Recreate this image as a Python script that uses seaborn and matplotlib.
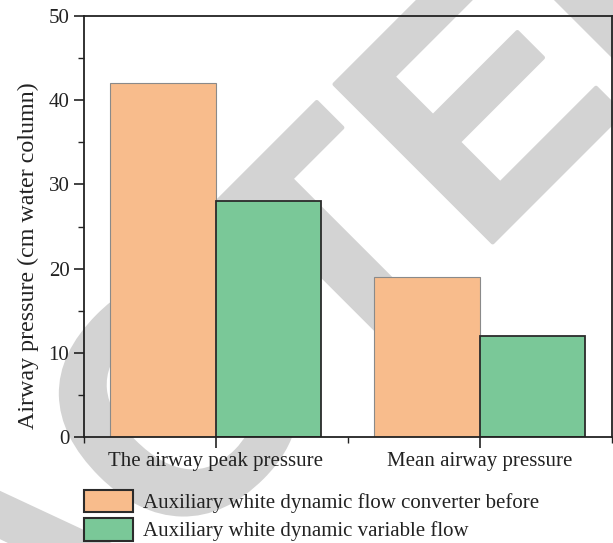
import numpy as np
import pandas as pd
import seaborn as sns
import matplotlib.pyplot as plt
import matplotlib.patheffects as pe
from matplotlib.patches import Patch
from matplotlib.ticker import MultipleLocator, FixedLocator

# --- data ---
categories = ["The airway peak pressure", "Mean airway pressure"]
groups = ["Auxiliary white dynamic flow converter before",
          "Auxiliary white dynamic variable flow"]
before_vals = [42, 19]
variable_vals = [28, 12]
colors = ["#F8BC8C", "#7AC898"]

df = pd.DataFrame({
    "category": categories * 2,
    "group": [groups[0]] * 2 + [groups[1]] * 2,
    "value": before_vals + variable_vals,
})

sns.set_style("white")
plt.rcParams['font.family'] = ['Liberation Serif', 'DejaVu Serif']
plt.rcParams['font.size'] = 15

fig = plt.figure(figsize=(6.13, 5.43), dpi=100)
# watermark behind the axes
fig.text(0.1436, -0.1915, "RETRACTED", ha='center', va='baseline', rotation=45,
         rotation_mode='anchor', fontsize=234, color='#d3d3d3', fontweight='bold',
         family='Liberation Sans', zorder=-1,
         path_effects=[pe.withStroke(linewidth=3, foreground='#d3d3d3')])

ax = fig.add_axes([0.137, 0.195, 0.861, 0.7755])
ax.patch.set_alpha(0)

sns.barplot(data=df, x="category", y="value", hue="group", palette=colors,
            width=0.8, ax=ax, legend=False, saturation=1)

for i, p in enumerate(ax.patches):
    if i < 2:
        p.set_edgecolor('#8a8a8a')
        p.set_linewidth(0.8)
    else:
        p.set_edgecolor('#2b2b2b')
        p.set_linewidth(1.3)

ax.set_xlim(-0.5, 1.5)
ax.set_ylim(0, 50)
ax.yaxis.set_major_locator(MultipleLocator(10))
ax.yaxis.set_minor_locator(MultipleLocator(5))
ax.xaxis.set_minor_locator(FixedLocator([-0.5, 0.5, 1.5]))
ax.set_xlabel("")
ax.set_ylabel("Airway pressure (cm water column)", fontsize=17.3, color='#222222')
ax.yaxis.set_label_coords(-0.086, 0.43)

for s in ax.spines.values():
    s.set_visible(True)
    s.set_color('#222222')
    s.set_linewidth(1.3)

ax.tick_params(axis='both', which='major', direction='out', length=7, width=1.2,
               color='#222222', labelsize=15, labelcolor='#222222')
ax.tick_params(axis='both', which='minor', direction='out', length=4, width=1.0,
               color='#222222')
ax.tick_params(axis='x', which='major', length=8, pad=3)
ax.tick_params(left=True, bottom=True, which='both')

handles = [Patch(facecolor=c, edgecolor='#2b2b2b', linewidth=1.5) for c in colors]
fig.legend(handles, groups, loc='upper left', bbox_to_anchor=(0.137, 0.098),
           frameon=False, fontsize=15, handlelength=2.35, handleheight=1.27,
           labelspacing=0.26, handletextpad=0.48, borderpad=0.0,
           borderaxespad=0.0, labelcolor='#222222')

fig.savefig("out.png", dpi=100)
